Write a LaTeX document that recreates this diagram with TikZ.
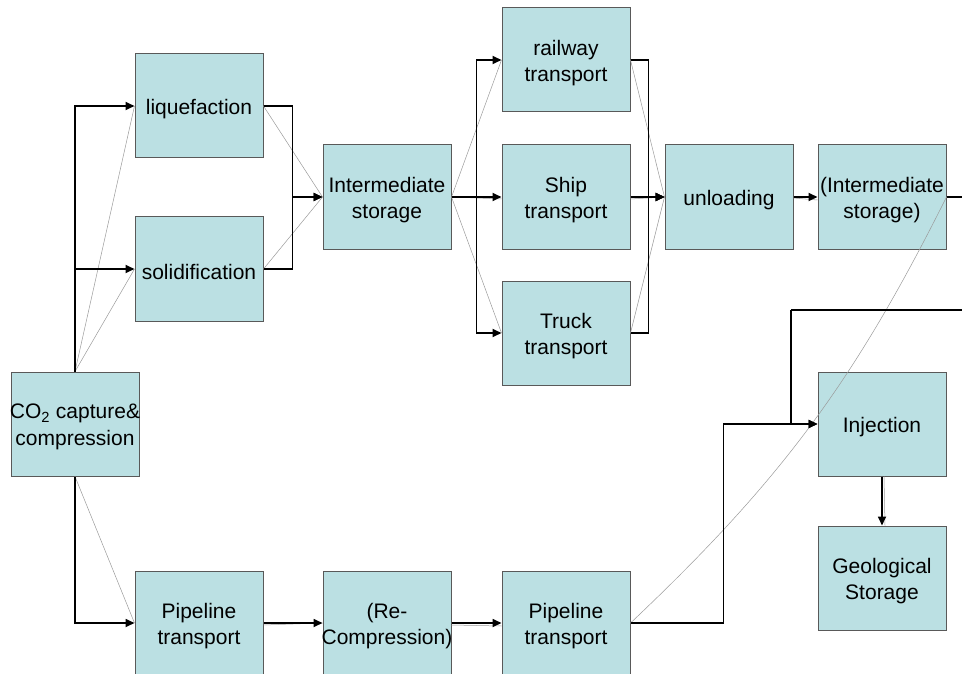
\documentclass[tikz,border=0pt]{standalone}
\usepackage{fontspec}
\setmainfont{Liberation Sans}
\usetikzlibrary{arrows.meta}

\definecolor{boxfill}{HTML}{BBE0E3}
\definecolor{boxline}{HTML}{595959}
\definecolor{ghost}{HTML}{9A9A9A}

\tikzset{
  stage/.style={draw=boxline, line width=1pt, fill=boxfill,
    minimum width=128pt, minimum height=104pt, inner sep=0pt},
  caption/.style={inner sep=0pt, align=center,
    font=\fontsize{21}{26.5}\selectfont},
  flow/.style={draw=black, line width=1.7pt,
    -{Triangle[length=9pt,width=8pt]}},
  trunk/.style={draw=black, line width=1.7pt},
  faint/.style={draw=ghost, line width=0.5pt}
}

% a stage box with its caption set slightly below the box centre
\newcommand\stagebox[3]{%
  \node[stage] (#1) at (#2) {};
  \node[caption] (#1-text) at ([yshift=-3pt]#1.center) {#3};
}

\begin{document}
\begin{tikzpicture}[x=1pt, y=-1pt]
\useasboundingbox (0,0) rectangle (962,674);

% process stages
\stagebox{co2}{75,424}{CO\textsubscript{2} capture\&\\compression}
\stagebox{liq}{199,106}{liquefaction}
\stagebox{sol}{199,269}{solidification}
\stagebox{pipeA}{199,623}{Pipeline\\transport}
\stagebox{store}{387,197}{Intermediate\\storage}
\stagebox{recomp}{387,623}{(Re-\\Compression)}
\stagebox{rail}{566,60}{railway\\transport}
\stagebox{ship}{566,197}{Ship\\transport}
\stagebox{truck}{566,333}{Truck\\transport}
\stagebox{pipeB}{566,623}{Pipeline\\transport}
\stagebox{unload}{729,197}{unloading}
\stagebox{storeB}{882,197}{(Intermediate\\storage)}
\stagebox{inj}{882,424}{Injection}
\stagebox{geo}{882,578}{Geological\\Storage}

% loop-back route from the second storage to injection
\coordinate (farR) at (990,310);
\coordinate (join) at (791,310);

% faint straight links
\draw[faint] (co2.north) -- (liq.west);
\draw[faint] (co2.north) -- (sol.west);
\draw[faint] (co2.south) -- (pipeA.west);
\draw[faint] (liq.east) -- (store.west);
\draw[faint] (sol.east) -- (store.west);
\draw[faint] (store.east) -- (rail.west);
\draw[faint] (store.east) -- ([yshift=-2pt]ship.west);
\draw[faint] (store.east) -- (truck.west);
\draw[faint] (rail.east) -- (unload.west);
\draw[faint] ([yshift=-2pt]ship.east) -- (unload.west);
\draw[faint] (truck.east) -- (unload.west);
\draw[faint] ([yshift=-1pt]unload.east) -- ([yshift=-3pt]storeB.west);
\draw[faint] ([yshift=-2pt]pipeA.east) -- (recomp.west);
\draw[faint] ([yshift=-2pt]recomp.east) -- ([yshift=-3pt]pipeB.west);
\draw[faint] (pipeB.east) to[bend right=10] (storeB.east);
\draw[faint] ([xshift=2pt]inj.south) -- ([xshift=3pt]geo.north);

% main flow
\draw[flow] (co2.north) |- (liq.west);
\draw[flow] (co2.north) |- (sol.west);
\draw[flow] (co2.south) |- (pipeA.west);
\draw[flow] (liq.east) -- ++(29,0) |- (store.west);
\draw[flow] (sol.east) -- ++(29,0) |- (store.west);
\draw[flow] (store.east) -- (ship.west);
\draw[flow] (store.east) -- ++(25,0) |- (rail.west);
\draw[flow] (store.east) -- ++(25,0) |- (truck.west);
\draw[flow] (rail.east) -- ++(18,0) |- (unload.west);
\draw[flow] (truck.east) -- ++(18,0) |- (unload.west);
\draw[flow] (ship.east) -- (unload.west);
\draw[flow] (unload.east) -- (storeB.west);
\draw[trunk] (storeB.east) -| (farR) -- (join);
\draw[flow] (join) |- (inj.west);
\draw[flow] (pipeA.east) -- (recomp.west);
\draw[flow] (recomp.east) -- (pipeB.west);
\draw[flow] (pipeB.east) -- ++(93,0) |- (inj.west);
\draw[flow] (inj.south) -- (geo.north);
\end{tikzpicture}
\end{document}
